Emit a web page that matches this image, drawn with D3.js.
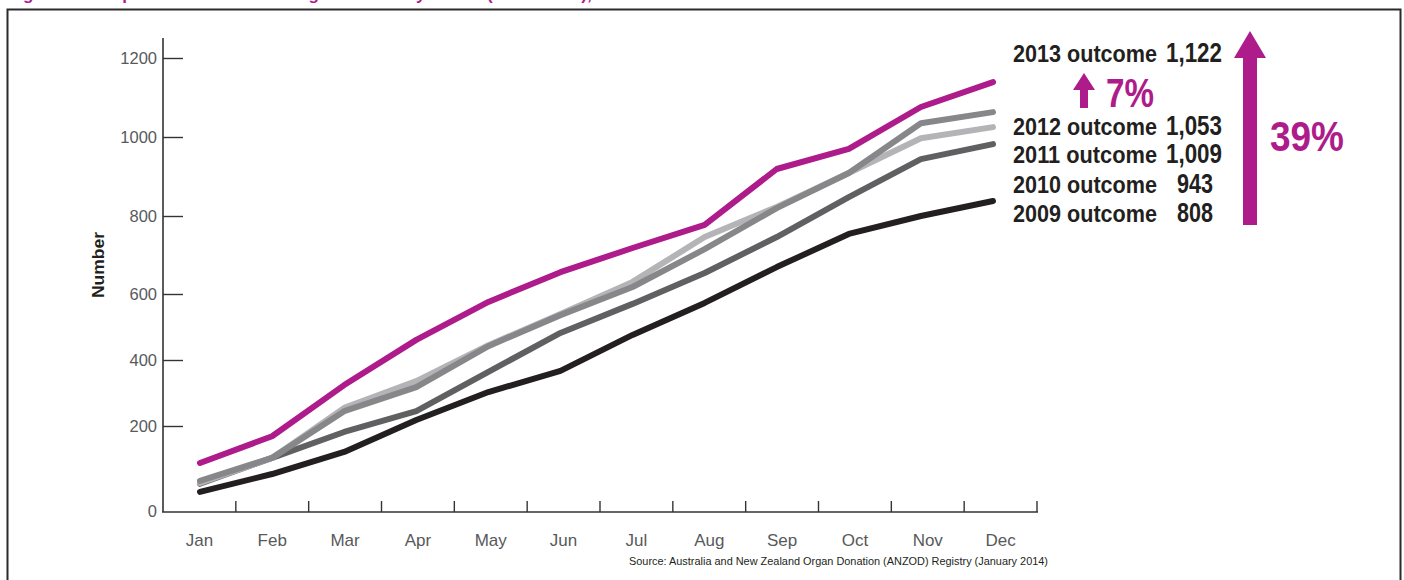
<!DOCTYPE html>
<html><head><meta charset="utf-8">
<script src="https://cdn.jsdelivr.net/npm/d3@7"></script>
<style>
html,body{margin:0;padding:0;background:#fff;}
svg{display:block;}
text{font-family:"Liberation Sans", Arial, sans-serif;}
</style></head>
<body>
<svg id="chart" width="1404" height="580"></svg>
<script>
// ---------- data ----------
const months = ["Jan","Feb","Mar","Apr","May","Jun","Jul","Aug","Sep","Oct","Nov","Dec"];
const yTickValues = [0,200,400,600,800,1000,1200];
const s2009 = [45,87,139,218,303,367,476,573,669,754,800,838];
const s2010 = [64,125,186,245,364,482,570,654,746,848,944,982];
const s2011 = [66,125,255,336,445,539,631,746,823,909,997,1025];
const s2012 = [71,125,245,318,442,536,618,715,820,909,1035,1063];
const s2013 = [113,176,324,461,576,656,718,777,919,970,1076,1139];
const seriesYears = ["2009","2010","2011","2012","2013"];
const outcomeYears = ["2013","2012","2011","2010","2009"];
const outcomeValues = ["1,122","1,053","1,009","943","808"];
const pctSmall = "7%";
const pctBig = "39%";
const titleText = "Figure 2: Comparison of deceased organ donors by month (cumulative), 2009–2013";
const yAxisTitle = "Number";
const sourceText = "Source: Australia and New Zealand Organ Donation (ANZOD) Registry (January 2014)";

const seriesData = [s2009, s2010, s2011, s2012, s2013];
const colors = {"2009":"#231f20","2010":"#606062","2011":"#b4b4b7","2012":"#87878a","2013":"#ae1b8b"};
const magenta = "#ae1b8b";

const svg = d3.select("#chart");

// frame
svg.append("rect").attr("x",7.5).attr("y",9.5).attr("width",1393).attr("height",600)
  .attr("fill","none").attr("stroke","#2b2b2b").attr("stroke-width",2);

// title (cut off at the top edge, as in the reference)
svg.append("text").attr("x",8).attr("y",-0.5).attr("fill",magenta)
  .attr("font-weight","bold").attr("font-size",17).text(titleText);

// scales
const xBand = d3.scaleBand().domain(months).range([163,1037]).paddingInner(0).paddingOuter(0);
const xPt = d3.scalePoint().domain(months).range([200,993]);
const y = d3.scaleLinear().domain(yTickValues).range([511,426,360,294,216,137,58]);

// y axis
const gy = svg.append("g").attr("transform","translate(163,0)");
gy.append("line").attr("x1",0).attr("x2",0).attr("y1",38).attr("y2",512)
  .attr("stroke","#333").attr("stroke-width",1.6);
const yAxis = d3.axisRight(y).tickValues(yTickValues.filter(v=>v>0)).tickSize(20).tickFormat("");
const gyt = gy.append("g").call(yAxis);
gyt.select(".domain").remove();
gyt.selectAll(".tick line").attr("stroke","#333").attr("stroke-width",1.4);
gy.selectAll("text.ylab").data(yTickValues).join("text").attr("class","ylab")
  .attr("x",-6).attr("y",d=>y(d)).attr("dy","0.35em").attr("text-anchor","end")
  .attr("font-size",16.5).attr("fill","#58595b").text(d=>d);

// x axis
const gx = svg.append("g").attr("transform","translate(0,512)");
gx.append("line").attr("x1",162).attr("x2",1038).attr("y1",0).attr("y2",0)
  .attr("stroke","#333").attr("stroke-width",1.6);
gx.selectAll("line.xt").data(months).join("line").attr("class","xt")
  .attr("x1",d=>xBand(d)+xBand.bandwidth()).attr("x2",d=>xBand(d)+xBand.bandwidth())
  .attr("y1",0).attr("y2",-11).attr("stroke","#333").attr("stroke-width",1.4);
gx.selectAll("text.xl").data(months).join("text").attr("class","xl")
  .attr("x",d=>xBand(d)+xBand.bandwidth()/2).attr("y",34).attr("text-anchor","middle")
  .attr("font-size",17).attr("fill","#58595b").text(d=>d);

// axis title
svg.append("text").attr("transform","translate(104,265) rotate(-90)")
  .attr("text-anchor","middle").attr("font-weight","bold").attr("font-size",16)
  .attr("fill","#231f20").attr("textLength",66).attr("lengthAdjust","spacingAndGlyphs").text(yAxisTitle);

// lines
const line = d3.line().x((d,i)=>xPt(months[i])).y(d=>y(d));
svg.append("g").selectAll("path").data(seriesData).join("path")
  .attr("d",d=>line(d)).attr("fill","none")
  .attr("stroke",(d,i)=>colors[seriesYears[i]]).attr("stroke-width",6)
  .attr("stroke-linecap","round").attr("stroke-linejoin","round");

// outcome annotations
const baselines = [62,135,163,193,222];
const ann = svg.append("g");
outcomeYears.forEach((yr,i)=>{
  ann.append("text").attr("x",1013).attr("y",baselines[i]).attr("font-weight","bold")
    .attr("font-size",24).attr("fill","#231f20")
    .attr("textLength",144).attr("lengthAdjust","spacingAndGlyphs").text(yr+" outcome");
  const v = outcomeValues[i];
  const long = v.length>3;
  ann.append("text").attr("x",long?1166:1177).attr("y",baselines[i]).attr("font-weight","bold")
    .attr("font-size",27).attr("fill","#231f20")
    .attr("textLength",long?56:36).attr("lengthAdjust","spacingAndGlyphs").text(v);
});
// small arrow
ann.append("path").attr("d","M1073,90 L1084,73 L1095,90 L1088,90 L1088,108 L1080,108 L1080,90 Z").attr("fill",magenta);
ann.append("text").attr("x",1106).attr("y",107).attr("font-weight","bold").attr("font-size",41)
  .attr("fill",magenta).attr("textLength",48).attr("lengthAdjust","spacingAndGlyphs").text(pctSmall);
// big arrow
ann.append("path").attr("d","M1234,58 L1250,31 L1266,58 L1257,58 L1257,225 L1243,225 L1243,58 Z").attr("fill",magenta);
ann.append("text").attr("x",1270).attr("y",151).attr("font-weight","bold").attr("font-size",42)
  .attr("fill",magenta).attr("textLength",74).attr("lengthAdjust","spacingAndGlyphs").text(pctBig);

// source
svg.append("text").attr("x",629).attr("y",565).attr("font-size",11).attr("fill","#231f20")
  .attr("textLength",419).attr("lengthAdjust","spacingAndGlyphs").text(sourceText);
</script>
</body></html>
